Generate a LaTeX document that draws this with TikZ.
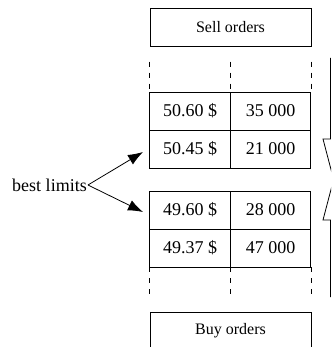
\documentclass[tikz,border=0pt]{standalone}
\usepackage{fontspec}
\setmainfont{Liberation Serif}
\usetikzlibrary{arrows.meta}
\tikzset{
  cell/.style={draw,line width=0.8pt,minimum width=80.5pt,minimum height=38pt,
    inner sep=0pt,font=\fontsize{18}{20}\selectfont},
  side/.style={draw,line width=0.8pt,minimum width=161pt,minimum height=38pt,
    inner sep=0pt,font=\fontsize{16}{18}\selectfont},
  gap/.style={line width=0.8pt,dash pattern=on 5pt off 6pt},
  hint/.style={-{Latex[length=15pt,width=11pt]},line width=0.8pt}
}
\begin{document}
\begin{tikzpicture}[x=1pt,y=-1pt]
      \useasboundingbox (0,0) rectangle (331,347);
      \clip (0,0) rectangle (331,347);
      \node[side] (sell) at (230.5,27) {Sell orders};
      \node[side] (buy) at (230.5,331) {Buy orders};
      \foreach \n/\y/\p/\q in{%
        a/111/50.60/35 000, b/149/50.45/21 000,
        c/210/49.60/28 000, d/248/49.37/47 000
      }{
        \node[cell] (p\n) at (190,\y) {\p\ \$};
        \node[cell] (q\n) at (270.5,\y) {\q};
      }
      \foreach \a in{pa.north west, pa.north east, qa.north east}{
        \draw[gap] ([yshift=30pt]\a) -- (\a);
      }
      \foreach \a in{pd.south west, pd.south east, qd.south east}{
        \draw[gap] (\a) -- ([yshift=-30pt]\a);
      }
      \draw[line width=0.8pt] (330.5,58) -- (330.5,139) -- (323,139) -- (334,181);
      \draw[line width=0.8pt] (330.5,297) -- (330.5,220) -- (323,220) -- (334,178);
      \node[font=\fontsize{18}{20}\selectfont,inner sep=1pt] (best) at (49.5,185) {best limits};
      \coordinate (tipup) at (143,152);
      \coordinate (tipdown) at (143,212);
      \draw[hint] (best.east) -- (tipup);
      \draw[hint] (best.east) -- (tipdown);
    \end{tikzpicture}
\end{document}
